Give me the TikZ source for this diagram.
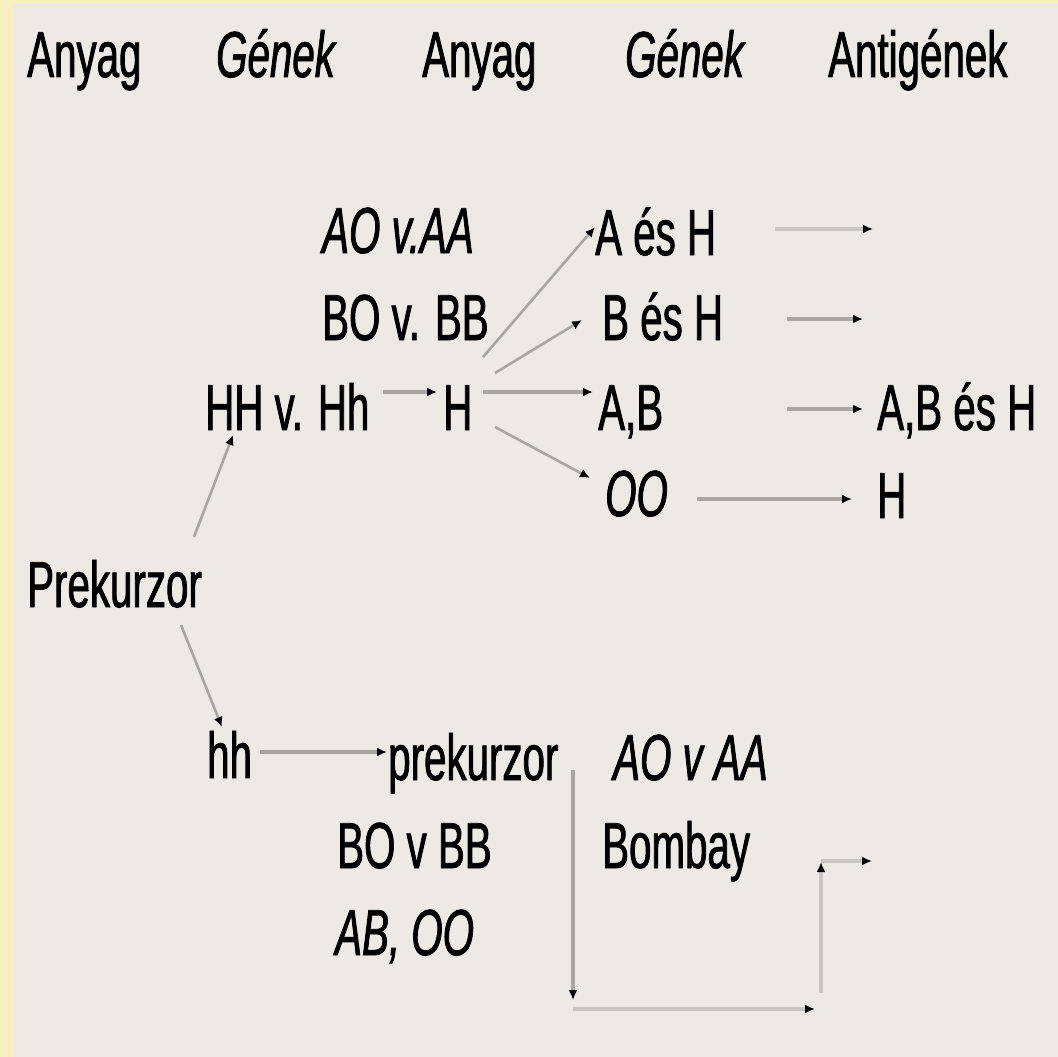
\documentclass[tikz,border=0pt]{standalone}
\usepackage{fontspec}
\setmainfont[FakeStretch=0.62,FakeBold=1.2]{Liberation Sans}
\usetikzlibrary{arrows.meta}
\definecolor{paper}{HTML}{EDE9E5}
\definecolor{frame}{HTML}{F8EEC0}
\definecolor{wire}{HTML}{A9A5A1}
\definecolor{wirelight}{HTML}{C9C5C1}
\begin{document}
\begin{tikzpicture}[x=1pt,y=-1pt,
  lbl/.style={inner sep=0pt,anchor=base west,font=\fontsize{65}{78}\selectfont},
  ilbl/.style={lbl,font=\fontsize{65}{78}\selectfont\itshape},
  wireline/.style={draw=wire,line width=3.5pt,-{Latex[length=10pt,width=9pt,color=black]}},
  thinwire/.style={wireline,line width=2.6pt},
  lightwire/.style={wireline,draw=wirelight,line width=4pt}]
% page and frame
\useasboundingbox (0,0) rectangle (1058,1057);
\fill[paper] (0,0) rectangle (1058,1057);
\fill[frame] (0,0) rectangle (13,1057);
\fill[frame] (0,0) rectangle (1058,4);

% column headers
\node[lbl]  (m1) at (27,77)  {Anyag};
\node[ilbl] (g1) at (216,77) {Gének};
\node[lbl]  (m2) at (422,77) {Anyag};
\node[ilbl] (g2) at (625,77) {Gének};
\node[lbl]  (ag) at (828,77) {Antigének};

% upper branch
\node[ilbl] (aoaa)  at (322,253) {AO v.AA};
\node[lbl]  (bobb)  at (322,340) {BO v. BB};
\node[lbl]  (hhv)   at (205,430) {HH v. Hh};
\node[lbl]  (hsub)  at (443,430) {H};
\node[lbl]  (aesh)  at (595,255) {A és H};
\node[lbl]  (besh)  at (602,340) {B és H};
\node[lbl]  (ab)    at (598,430) {A,B};
\node[ilbl] (oo)    at (605,516) {OO};
\node[lbl]  (abesh) at (877,430) {A,B és H};
\node[lbl]  (honly) at (877,518) {H};

% precursor
\node[lbl]  (prek)  at (27,607)  {Prekurzor};

% lower branch
\node[lbl]  (hh)     at (207,778) {hh};
\node[lbl]  (prek2)  at (388,780) {prekurzor};
\node[ilbl] (aoaa2)  at (613,780) {AO v AA};
\node[lbl]  (bobb2)  at (337,868) {BO v BB};
\node[lbl]  (bombay) at (602,868) {Bombay};
\node[ilbl] (aboo)   at (335,955) {AB, OO};

% free ends
\coordinate (ea) at (873,229);
\coordinate (eb) at (863,319);
\coordinate (d1) at (573,1000);
\coordinate (d2) at (573,1009);
\coordinate (d3) at (815,1009);
\coordinate (d4) at (821,993);
\coordinate (d5) at (821,862);
\coordinate (d6) at (821,861);
\coordinate (d7) at (872,861);

% connectors
\draw[thinwire] ([shift={(167,-70)}]prek.base west) -- ([shift={(28,5)}]hhv.base west);
\draw[thinwire] ([shift={(154,18)}]prek.base west) -- ([shift={(15,-51)}]hh.base west);
\draw[wireline] ([shift={(178,-38)}]hhv.base west) -- ([shift={(-6,-38)}]hsub.base west);
\draw[thinwire] ([shift={(40,-73)}]hsub.base west) -- ([shift={(0,-28)}]aesh.base west);
\draw[thinwire] ([shift={(52,-57)}]hsub.base west) -- ([shift={(-20,-20)}]besh.base west);
\draw[wireline] ([shift={(40,-38)}]hsub.base west) -- ([shift={(-5,-38)}]ab.base west);
\draw[thinwire] ([shift={(52,-3)}]hsub.base west) -- ([shift={(-15,-38)}]oo.base west);
\draw[lightwire] ([shift={(180,-26)}]aesh.base west) -- (ea);
\draw[wireline] ([shift={(185,-21)}]besh.base west) -- (eb);
\draw[wireline] ([shift={(189,-21)}]ab.base west) -- ([shift={(-14,-21)}]abesh.base west);
\draw[wireline] ([shift={(92,-17)}]oo.base west) -- ([shift={(-25,-19)}]honly.base west);
\draw[wireline] ([shift={(53,-26)}]hh.base west) -- ([shift={(-1,-28)}]prek2.base west);
\draw[wireline] ([shift={(185,-10)}]prek2.base west) -- (d1);
\draw[lightwire] (d2) -- (d3);
\draw[lightwire] (d4) -- (d5);
\draw[lightwire] (d6) -- (d7);
\end{tikzpicture}
\end{document}
